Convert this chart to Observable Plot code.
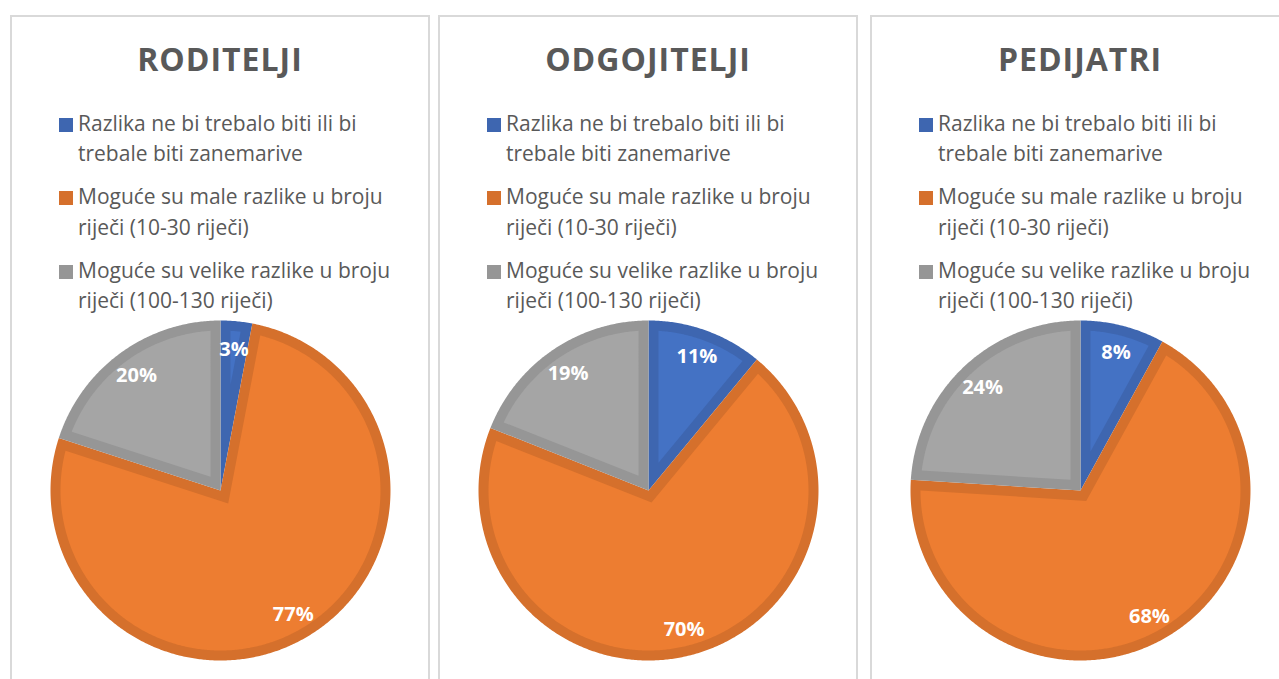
<!DOCTYPE html>
<html>
<head>
<meta charset="utf-8">
<script src="https://cdn.jsdelivr.net/npm/d3@7"></script>
<script src="https://cdn.jsdelivr.net/npm/@observablehq/plot@0.6"></script>
<style>
  html, body { margin: 0; padding: 0; background: #ffffff; }
  body { width: 1279px; height: 679px; overflow: hidden; position: relative; font-family: "Open Sans", sans-serif; }
  .panel { position: absolute; top: 15px; width: 420px; height: 720px; box-sizing: border-box; border: 2px solid #d9d9d9; background: #fff; }
  .title { position: absolute; left: 0; width: 416px; top: 22px; text-align: center; font-weight: 700; font-size: 32px; line-height: 40px; color: #595959; letter-spacing: 1px; }
  .leg { position: absolute; left: 0; width: 416px; }
  .leg .sw { position: absolute; left: 47px; top: 10px; width: 14px; height: 14px; }
  .leg .tx { position: absolute; left: 66px; top: 0; white-space: pre; font-size: 21px; line-height: 30.5px; color: #595959; }
  .pie { position: absolute; left: 0; top: 298px; }
</style>
</head>
<body>
<script>
// ---- data ----
const groups = ["RODITELJI", "ODGOJITELJI", "PEDIJATRI"];
const categories = [
  "Razlika ne bi trebalo biti ili bi\ntrebale biti zanemarive",
  "Moguće su male razlike u broju\nriječi (10-30 riječi)",
  "Moguće su velike razlike u broju\nriječi (100-130 riječi)"
];
const roditelji = [3, 77, 20];
const odgojitelji = [11, 70, 19];
const pedijatri = [8, 68, 24];
const seriesValues = [roditelji, odgojitelji, pedijatri];

// ---- styles ----
const fillColors = ["#4472C4", "#ED7D31", "#A5A5A5"];
const borderColors = ["#3E66B0", "#D5702C", "#969696"];
const panelLeft = [10, 438, 870];
const R = 170, BORDER = 10, LABEL_R = 143;

function wedge(a0, a1, inset, radius) {
  const r = radius - inset;
  const pts = [];
  let s = a0, e = a1;
  if (inset === 0) {
    pts.push({x: 0, y: 0});
  } else {
    const th = a1 - a0;
    const d = inset / Math.sin(th / 2);
    if (d >= r) return null;
    const mid = (a0 + a1) / 2;
    pts.push({x: d * Math.sin(mid), y: d * Math.cos(mid)});
    const da = Math.asin(inset / r);
    s = a0 + da; e = a1 - da;
    if (e <= s) return null;
  }
  const n = Math.max(2, Math.ceil((e - s) / (Math.PI / 360)));
  for (let i = 0; i <= n; i++) {
    const a = s + (e - s) * i / n;
    pts.push({x: r * Math.sin(a), y: r * Math.cos(a)});
  }
  return pts;
}

groups.forEach((g, gi) => {
  const panel = document.createElement("div");
  panel.className = "panel";
  panel.style.left = panelLeft[gi] + "px";
  document.body.appendChild(panel);

  const title = document.createElement("div");
  title.className = "title";
  title.textContent = g;
  panel.appendChild(title);

  const legTops = [90.5, 164, 237.5];
  categories.forEach((c, ci) => {
    const item = document.createElement("div");
    item.className = "leg";
    item.style.top = legTops[ci] + "px";
    const sw = document.createElement("div");
    sw.className = "sw";
    sw.style.background = borderColors[ci];
    const tx = document.createElement("div");
    tx.className = "tx";
    tx.textContent = c;
    item.appendChild(sw); item.appendChild(tx);
    panel.appendChild(item);
  });

  const vals = seriesValues[gi];
  const total = d3.sum(vals);
  const arcs = d3.pie().sort(null).value(d => d)(vals);

  const marks = [];
  arcs.forEach((a, i) => {
    marks.push(Plot.line(wedge(a.startAngle, a.endAngle, 0, R), {x: "x", y: "y", fill: borderColors[i], stroke: "none", curve: "linear-closed"}));
  });
  arcs.forEach((a, i) => {
    const p = wedge(a.startAngle, a.endAngle, BORDER, R);
    if (p) marks.push(Plot.line(p, {x: "x", y: "y", fill: fillColors[i], stroke: "none", curve: "linear-closed"}));
  });
  const labels = arcs.map((a, i) => {
    const m = (a.startAngle + a.endAngle) / 2;
    return {x: LABEL_R * Math.sin(m), y: LABEL_R * Math.cos(m), text: Math.round(vals[i] / total * 100) + "%"};
  });
  marks.push(Plot.text(labels, {x: "x", y: "y", text: "text", fill: "white", fontSize: 20, fontWeight: "bold", dy: 1}));

  const svg = Plot.plot({
    width: 416,
    height: 364,
    margin: 0,
    x: {domain: [-208, 208], axis: null},
    y: {domain: [-189, 175], axis: null},
    style: {fontFamily: "Open Sans", background: "transparent", overflow: "visible"},
    marks
  });
  svg.classList.add("pie");
  svg.style.position = "absolute";
  svg.style.left = "0px";
  svg.style.top = "298px";
  panel.appendChild(svg);
});
</script>
</body>
</html>
